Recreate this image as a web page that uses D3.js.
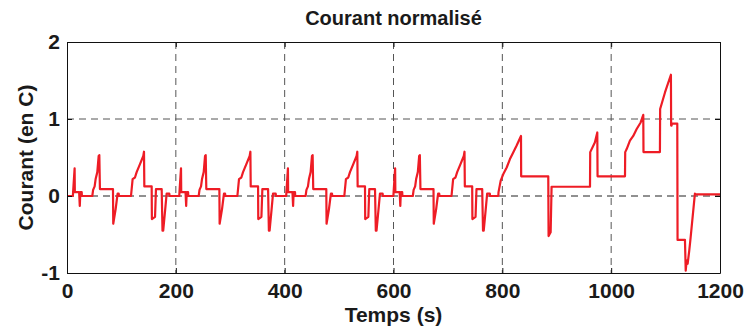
<!DOCTYPE html>
<html>
<head>
<meta charset="utf-8">
<script src="https://cdn.jsdelivr.net/npm/d3@7"></script>
<style>
  body { margin: 0; background: #fff; }
  text { font-family: "Liberation Sans", Arial, sans-serif; font-weight: bold; fill: #1a1a1a; }
</style>
</head>
<body>
<svg id="chart" width="747" height="328"></svg>
<script>
// axis ticks
const xTicks = [0, 200, 400, 600, 800, 1000, 1200];
const yTicks = [-1, 0, 1, 2];

// first point, then the four urban cycles and the extra-urban part
const startT = [0];
const startI = [0];
const eceI = [0, 0.05, 0.36, 0.05, 0.05, -0.13, 0.05, 0.05, 0, 0, 0.08, 0.125, 0.22, 0.31, 0.52, 0.53, 0.09,
  0.09, -0.36, -0.17, 0, 0.03, 0.03, 0, 0, 0.22, 0.24, 0.31, 0.415, 0.52, 0.575, 0.125,
  0.125, -0.3, -0.27, 0.09, 0.09, -0.45, -0.45, -0.21, 0.03, 0.03, 0];
const ece1T = [10.8, 11.2, 14, 14.4, 22.3, 23.5, 24.5, 27, 27.4, 46.5, 48, 50.8, 52.6, 55.7, 58.2, 59.4, 60.5,
  84.5, 85, 89.4, 92.4, 93, 95, 95.5, 117.6, 120.6, 124.9, 128, 134.1, 140.2, 141.5, 142.1,
  155.6, 156, 161.8, 163.5, 174, 175.5, 176.8, 180, 183.1, 188, 188.5];
const ece2T = [206.3, 206.7, 209.5, 209.9, 217.8, 219, 220, 222.5, 222.9, 242, 243.5, 246.3, 248.1, 251.2, 253.7, 254.9, 256,
  280, 280.5, 284.9, 287.9, 288.5, 290.5, 291, 313.1, 316.1, 320.4, 323.5, 329.6, 335.7, 337, 337.6,
  351.1, 351.5, 357.3, 359, 369.5, 371, 372.3, 375.5, 378.6, 383.5, 384];
const ece3T = [402.8, 403.2, 406, 406.4, 414.3, 415.5, 416.5, 419, 419.4, 438.5, 440, 442.8, 444.6, 447.7, 450.2, 451.4, 452.5,
  476.5, 477, 481.4, 484.4, 485, 487, 487.5, 509.6, 512.6, 516.9, 520, 526.1, 532.2, 533.5, 534.1,
  547.6, 548, 553.8, 555.5, 566, 567.5, 568.8, 572, 575.1, 580, 580.5];
const ece4T = [599.8, 600.2, 603, 603.4, 611.3, 612.5, 613.5, 616, 616.4, 635.5, 637, 639.8, 641.6, 644.7, 647.2, 648.4, 649.5,
  673.5, 674, 678.4, 681.4, 682, 684, 684.5, 706.6, 709.6, 713.9, 717, 723.1, 729.2, 730.5, 731.1,
  744.6, 745, 750.8, 752.5, 763, 764.5, 765.8, 769, 772.1, 777, 777.5];
const eudcT = [792.6, 793, 797, 801.8, 808, 814, 820, 826.3, 834.3, 834.6, 884.4, 885, 888.8, 890.5, 961.1, 961.5,
  970, 974.5, 975, 1025.4, 1025.8, 1028.5, 1034.5, 1040.6, 1046.9, 1054.2, 1059, 1059.4, 1089.6, 1090,
  1098.9, 1109.8, 1110.2, 1111, 1111.5, 1121.5, 1122, 1135.6, 1137, 1138.7, 1140.5, 1143.5, 1146, 1153.9, 1155, 1200];
const eudcI = [0, 0.05, 0.2, 0.285, 0.37, 0.48, 0.565, 0.655, 0.78, 0.255, 0.255, -0.52, -0.47, 0.12, 0.12, 0.57,
  0.695, 0.825, 0.255, 0.255, 0.57, 0.61, 0.72, 0.78, 0.87, 0.955, 1.055, 0.57, 0.57, 1.13,
  1.345, 1.575, 0.915, 0.915, 0.94, 0.94, -0.57, -0.57, -0.97, -0.84, -0.88, -0.71, -0.54, 0.03, 0.02, 0.02];

const pairs = (ts, vs) => ts.map((t, i) => [t, vs[i]]);
const data = [].concat(
  pairs(startT, startI),
  pairs(ece1T, eceI),
  pairs(ece2T, eceI),
  pairs(ece3T, eceI),
  pairs(ece4T, eceI),
  pairs(eudcT, eudcI)
);

const svg = d3.select("#chart"),
  margin = { top: 42, right: 27, bottom: 55, left: 67 },
  width = +svg.attr("width") - margin.left - margin.right,
  height = +svg.attr("height") - margin.top - margin.bottom,
  g = svg.append("g").attr("transform", "translate(" + margin.left + "," + margin.top + ")");

const x = d3.scaleLinear().domain([0, 1200]).range([0, width]);
const y = d3.scaleLinear().domain([-1, 2]).range([height, 0]);
const plain = (d) => String(d); // keep the ascii hyphen for -1

// dashed grid
g.append("g")
  .selectAll("line")
  .data(xTicks.slice(1, -1))
  .enter()
  .append("line")
  .attr("x1", (d) => x(d)).attr("x2", (d) => x(d))
  .attr("y1", 0).attr("y2", height)
  .attr("stroke", "#555")
  .attr("stroke-dasharray", "7,5");

g.append("g")
  .selectAll("line")
  .data(yTicks.slice(1, -1))
  .enter()
  .append("line")
  .attr("x1", 0).attr("x2", width)
  .attr("y1", (d) => y(d)).attr("y2", (d) => y(d))
  .attr("stroke", (d) => (d === 0 ? "#222" : "#555"))
  .attr("stroke-dasharray", "7,5");

// the curve
g.append("path")
  .datum(data)
  .attr("fill", "none")
  .attr("stroke", "#ee1c25")
  .attr("stroke-width", 2.2)
  .attr("stroke-linejoin", "round")
  .attr("d", d3.line().x((d) => x(d[0])).y((d) => y(d[1])));

// axes (ticks inside, labels outside)
const xAxis = g.append("g")
  .attr("transform", "translate(0," + height + ")")
  .call(d3.axisBottom(x).tickValues(xTicks).tickFormat(plain).tickSize(-5).tickSizeOuter(0).tickPadding(10));
const yAxis = g.append("g")
  .call(d3.axisLeft(y).tickValues(yTicks).tickFormat(plain).tickSize(-5).tickSizeOuter(0).tickPadding(7));
g.append("g")
  .call(d3.axisTop(x).tickValues(xTicks).tickFormat("").tickSize(-5).tickSizeOuter(0));
g.append("g")
  .attr("transform", "translate(" + width + ",0)")
  .call(d3.axisRight(y).tickValues(yTicks).tickFormat("").tickSize(-5).tickSizeOuter(0));

svg.selectAll(".domain").attr("stroke", "#111");
svg.selectAll(".tick line").attr("stroke", "#111");
xAxis.selectAll("text").attr("font-size", 21).attr("dy", "0.71em");
yAxis.selectAll("text").attr("font-size", 21);
svg.selectAll(".tick text").style("font-family", "\"Liberation Sans\", Arial, sans-serif").style("font-weight", "bold").attr("fill", "#1a1a1a");

// titles
svg.append("text")
  .attr("x", margin.left + width / 2)
  .attr("y", 25)
  .attr("text-anchor", "middle")
  .attr("font-size", 20)
  .text("Courant normalisé");

svg.append("text")
  .attr("x", margin.left + width / 2)
  .attr("y", 322)
  .attr("text-anchor", "middle")
  .attr("font-size", 21)
  .text("Temps (s)");

svg.append("text")
  .attr("transform", "translate(33," + (margin.top + height / 2) + ") rotate(-90)")
  .attr("text-anchor", "middle")
  .attr("font-size", 21)
  .text("Courant (en C)");
</script>
</body>
</html>
